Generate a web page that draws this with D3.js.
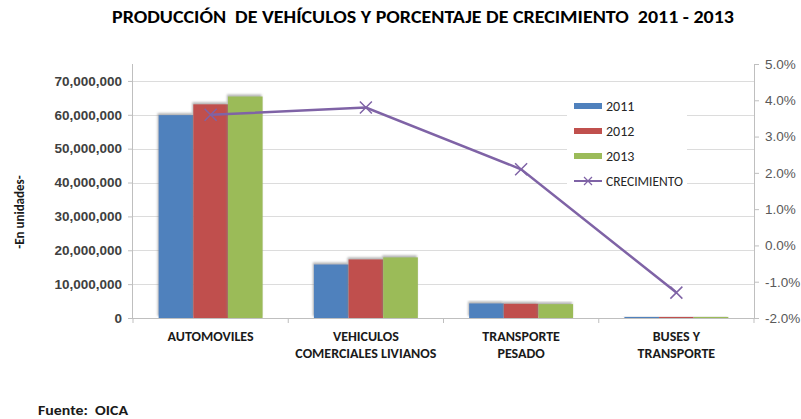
<!DOCTYPE html>
<html>
<head>
<meta charset="utf-8">
<title>Producción de vehículos</title>
<script src="https://d3js.org/d3.v7.min.js"></script>
<style>
  body { margin: 0; background: #fff; }
  svg { display: block; font-family: Carlito, "Liberation Sans Narrow", "Open Sans", sans-serif; }
</style>
</head>
<body>
<div id="chart"></div>
<script>
/* global d3 */

const categories = [
  ['AUTOMOVILES'],
  ['VEHICULOS', 'COMERCIALES LIVIANOS'],
  ['TRANSPORTE', 'PESADO'],
  ['BUSES Y', 'TRANSPORTE']
];
const years = ['2011', '2012', '2013'];
const units2011 = [59900000, 15800000, 4300000, 300000];
const units2012 = [63100000, 17300000, 4200000, 300000];
const units2013 = [65400000, 17900000, 4100000, 300000];
const growth = [3.6, 3.8, 2.1, -1.3];   // %
const leftTicks = [0, 10e6, 20e6, 30e6, 40e6, 50e6, 60e6, 70e6];
const rightTicks = [-2, -1, 0, 1, 2, 3, 4, 5];

const colors = { '2011': '#4F81BD', '2012': '#C0504D', '2013': '#9BBB59' };
const lineColor = '#7F63A6';

const W = 801, H = 419;
const margin = { top: 64, right: 47, bottom: 101, left: 133 };
const width = W - margin.left - margin.right;
const height = H - margin.top - margin.bottom;

const svg = d3.select('#chart').append('svg')
    .attr('width', W)
    .attr('height', H);

// soft shadow like the spreadsheet bars
const defs = svg.append('defs');
const f = defs.append('filter').attr('id', 'shadow')
    .attr('x', '-20%').attr('y', '-20%').attr('width', '140%').attr('height', '140%');
f.append('feDropShadow')
    .attr('dx', -1).attr('dy', -2).attr('stdDeviation', 1.3)
    .attr('flood-color', '#808080').attr('flood-opacity', 0.6);

const g = svg.append('g')
    .attr('transform', `translate(${margin.left}, ${margin.top})`);

const keys = categories.map(c => c.join(' '));
const x0 = d3.scaleBand().domain(keys).range([0, width]);
const x1 = d3.scaleBand().domain(years).range([0, x0.bandwidth()]).paddingOuter(0.74);
const yL = d3.scaleLinear().domain([0, 75e6]).range([height, 0]);
const yR = d3.scaleLinear().domain([-2, 5]).range([height, 0]);

// gridlines
g.append('g')
  .selectAll('line')
  .data(leftTicks.slice(1))
  .join('line')
    .attr('x1', 0).attr('x2', width)
    .attr('y1', d => Math.round(yL(d)) + 0.5).attr('y2', d => Math.round(yL(d)) + 0.5)
    .attr('stroke', '#DCDCDC');

// left axis
const axL = g.append('g')
  .call(d3.axisLeft(yL).tickValues(leftTicks).tickSize(5).tickPadding(6).tickFormat(d3.format(',')));
axL.select('.domain').attr('stroke', '#BFBFBF').attr('d', `M-0.5,0V${height}`);
axL.selectAll('.tick line').attr('stroke', '#BFBFBF');
axL.selectAll('text').attr('font-size', 13.5).attr('font-weight', 'bold').attr('fill', '#404040')
    .attr('font-family', 'inherit');

// right axis
const axR = g.append('g').attr('transform', `translate(${width}, 0)`)
  .call(d3.axisRight(yR).tickValues(rightTicks).tickSize(5).tickPadding(6).tickFormat(d => d.toFixed(1) + '%'));
axR.select('.domain').attr('stroke', '#BFBFBF').attr('d', `M0.5,0V${height}`);
axR.selectAll('.tick line').attr('stroke', '#BFBFBF');
axR.selectAll('text').attr('font-size', 13.5).attr('fill', '#595959').attr('font-family', 'inherit');

// bottom axis with ticks between categories
g.append('line')
    .attr('x1', 0).attr('x2', width)
    .attr('y1', height + 0.5).attr('y2', height + 0.5)
    .attr('stroke', '#BFBFBF');
g.append('g')
  .selectAll('line')
  .data(keys.concat(['end']))
  .join('line')
    .attr('x1', (d, i) => i < keys.length ? x0(d) : width)
    .attr('x2', (d, i) => i < keys.length ? x0(d) : width)
    .attr('y1', height).attr('y2', height + 5)
    .attr('stroke', '#BFBFBF');

const catLabels = g.append('g')
  .selectAll('text')
  .data(categories)
  .join('text')
    .attr('x', (d, i) => x0(keys[i]) + x0.bandwidth() / 2)
    .attr('y', height + 23)
    .attr('text-anchor', 'middle')
    .attr('font-size', 14)
    .attr('font-weight', 'bold')
    .attr('fill', '#1a1a1a');
catLabels.selectAll('tspan')
  .data(d => d)
  .join('tspan')
    .attr('x', function () { return this.parentNode.getAttribute('x'); })
    .attr('dy', (d, i) => i === 0 ? 0 : 17)
    .text(d => d);

// bars
const series = { '2011': units2011, '2012': units2012, '2013': units2013 };
const groups = g.append('g')
  .selectAll('g')
  .data(keys)
  .join('g')
    .attr('transform', d => `translate(${x0(d)}, 0)`);
groups.selectAll('rect')
  .data((d, i) => years.map(y => ({ year: y, value: series[y][i] })))
  .join('rect')
    .attr('x', d => x1(d.year))
    .attr('width', x1.bandwidth())
    .attr('y', d => yL(d.value))
    .attr('height', d => height - yL(d.value))
    .attr('fill', d => colors[d.year])
    .attr('filter', 'url(#shadow)');

// legend
const legend = svg.append('g').attr('transform', 'translate(567, 94)');
legend.append('rect').attr('width', 120).attr('height', 96).attr('fill', '#fff');
years.forEach((y, i) => {
  const row = legend.append('g').attr('transform', `translate(7, ${12 + i * 25})`);
  row.append('rect').attr('x', 0).attr('y', -3).attr('width', 28).attr('height', 6).attr('fill', colors[y]);
  row.append('text').attr('x', 32).attr('y', 5).attr('font-size', 14).attr('fill', '#262626').text(y);
});
const lrow = legend.append('g').attr('transform', `translate(7, ${12 + 3 * 25})`);
lrow.append('line').attr('x1', 0).attr('x2', 28).attr('stroke', lineColor).attr('stroke-width', 2);
lrow.append('path').attr('d', 'M10,-4L18,4M10,4L18,-4').attr('stroke', lineColor).attr('stroke-width', 1.2);
lrow.append('text').attr('x', 32).attr('y', 5).attr('font-size', 13.5).attr('fill', '#262626').text('CRECIMIENTO');

// growth line
const cx = i => x0(keys[i]) + x0.bandwidth() / 2;
g.append('path')
    .datum(growth)
    .attr('fill', 'none')
    .attr('stroke', lineColor)
    .attr('stroke-width', 2.5)
    .attr('d', d3.line().x((d, i) => cx(i)).y(d => yR(d)));
g.append('g')
  .selectAll('path')
  .data(growth)
  .join('path')
    .attr('transform', (d, i) => `translate(${cx(i)}, ${yR(d)})`)
    .attr('d', 'M-6,-6L6,6M-6,6L6,-6')
    .attr('stroke', lineColor)
    .attr('stroke-width', 1.5);

// title, axis title, source
svg.append('text')
    .attr('x', 112).attr('y', 23)
    .attr('font-size', 18).attr('font-weight', 'bold').attr('fill', '#000')
    .attr('xml:space', 'preserve')
    .attr('textLength', 622).attr('lengthAdjust', 'spacingAndGlyphs')
    .text('PRODUCCIÓN  DE VEHÍCULOS Y PORCENTAJE DE CRECIMIENTO  2011 - 2013');

svg.append('text')
    .attr('transform', 'translate(24, 212) rotate(-90)')
    .attr('text-anchor', 'middle')
    .attr('font-size', 13).attr('font-weight', 'bold').attr('fill', '#1a1a1a')
    .text('-En unidades-');

svg.append('text')
    .attr('x', 38).attr('y', 415)
    .attr('font-size', 14).attr('font-weight', 'bold').attr('fill', '#1a1a1a')
    .attr('xml:space', 'preserve')
    .attr('textLength', 90).attr('lengthAdjust', 'spacingAndGlyphs')
    .text('Fuente:  OICA');
</script>
</body>
</html>
